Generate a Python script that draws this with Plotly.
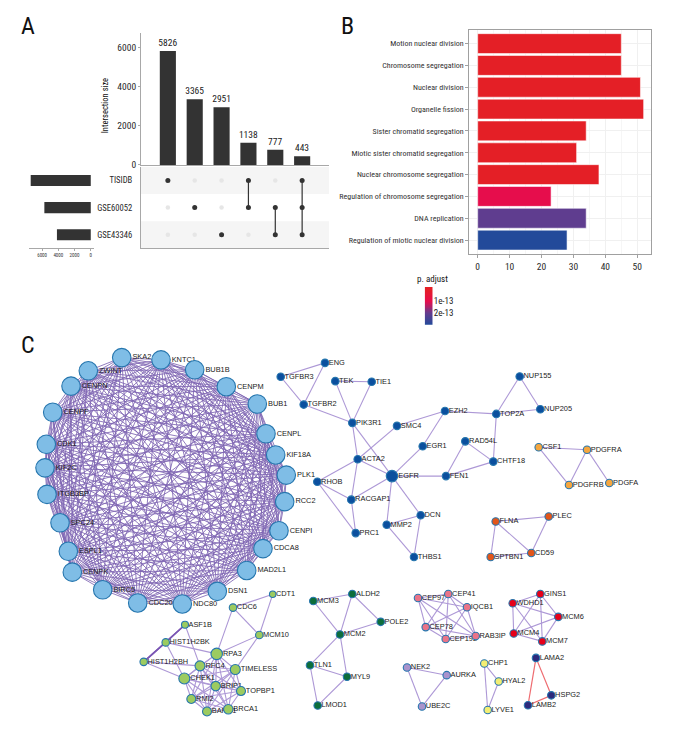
import itertools
import plotly.graph_objects as go

W, H = 680, 750
NARROW = "Roboto Condensed"
SANS = "Liberation Sans"

# ---- A: UpSet data
set_names = ["TISIDB", "GSE60052", "GSE43346"]
set_sizes = [7407, 5723, 4171]
inter_sizes = [5826, 3365, 2951, 1138, 777, 443]
inter_members = [[0], [1], [2], [0, 1], [1, 2], [0, 1, 2]]

# ---- B: enrichment data
terms = ["Motion nuclear division", "Chromosome segregation", "Nuclear division", "Organelle fission",
         "Sister chromatid segregation", "Miotic sister chromatid segregation",
         "Nuclear chromosome segregation", "Regulation of chromosome segregation",
         "DNA replication", "Regulation of miotic nuclear division"]
counts = [45, 45, 51, 52, 34, 31, 38, 23, 34, 28]
padj = [1e-16, 1e-16, 1e-16, 1e-16, 1e-16, 1e-16, 1e-16, 1.0e-13, 2.1e-13, 2.95e-13]
cb_levels = [(-0.17 + 3.17 * i / 40) * 1e-13 for i in range(41)]

# ---- C: network data (layout positions)
hub_nodes = {
    "SKA2": (121.7, 360), "KNTC1": (161, 362.3), "BUB1B": (194.7, 372.3), "CENPM": (226.3, 389.3),
    "BUB1": (257.3, 406.7), "CENPL": (266, 436.7), "KIF18A": (275.7, 458), "PLK1": (286.3, 478.3),
    "RCC2": (284.7, 505), "CENPI": (279, 534.3), "CDCA8": (263, 552.3), "MAD2L1": (246.7, 574.3),
    "DSN1": (217.3, 595.3), "NDC80": (182.3, 608), "CDC20": (137.7, 607), "BIRC5": (102.7, 593.7),
    "CENPK": (72.3, 576), "ESPL1": (68.3, 555), "SPC24": (60, 526.3), "ITGB3BP": (47, 497.7),
    "KIF2C": (45, 471), "CDK1": (46.3, 447.3), "CENPF": (52.7, 415), "CENPN": (71, 388.7),
    "ZWINT": (88.3, 373.3)}
blue_nodes = {
    "ENG": (325, 365.3), "TEK": (335.3, 383.7), "TIE1": (371.7, 384.3), "TGFBR2": (303.7, 407.3),
    "TGFBR3": (280.7, 379.3), "PIK3R1": (352.3, 425.7), "SMC4": (397, 428.7), "EZH2": (445, 413.7),
    "TOP2A": (496.3, 416.7), "NUP155": (519.7, 379), "NUP205": (540.3, 412), "EGR1": (422.7, 449.3),
    "RAD54L": (465.3, 444.3), "CHTF18": (493.3, 464.7), "ACTA2": (357.7, 462.3), "EGFR": (392, 479.3),
    "FEN1": (446, 479.3), "RHOB": (317.3, 485), "RACGAP1": (351.3, 503), "DCN": (420.7, 518.7),
    "MMP2": (386.7, 528.3), "PRC1": (355.7, 536.7), "THBS1": (414, 560.7)}
blue_edges = [("TGFBR3", "ENG"), ("TGFBR3", "TGFBR2"), ("ENG", "TGFBR2"), ("TGFBR2", "PIK3R1"), ("TEK", "TIE1"),
              ("TEK", "PIK3R1"), ("TIE1", "PIK3R1"), ("PIK3R1", "ACTA2"), ("PIK3R1", "EGFR"), ("SMC4", "ACTA2"),
              ("SMC4", "EZH2"), ("EZH2", "TOP2A"), ("EZH2", "EGR1"), ("EGR1", "EGFR"), ("TOP2A", "NUP155"),
              ("TOP2A", "NUP205"), ("NUP155", "NUP205"), ("TOP2A", "CHTF18"), ("RAD54L", "CHTF18"), ("RAD54L", "FEN1"),
              ("FEN1", "CHTF18"), ("FEN1", "EGFR"), ("ACTA2", "EGFR"), ("ACTA2", "RHOB"), ("ACTA2", "RACGAP1"),
              ("EGFR", "RACGAP1"), ("RHOB", "RACGAP1"), ("RHOB", "PRC1"), ("RACGAP1", "PRC1"), ("EGFR", "MMP2"),
              ("EGFR", "DCN"), ("MMP2", "DCN"), ("MMP2", "THBS1"), ("DCN", "THBS1")]
orange_nodes = {"CSF1": (538.7, 450.3), "PDGFRA": (587, 452.7), "PDGFRB": (569, 488.3), "PDGFA": (609.3, 486.3)}
orange_edges = [("CSF1", "PDGFRA"), ("CSF1", "PDGFRB"), ("PDGFRA", "PDGFRB"), ("PDGFRA", "PDGFA")]
rust_nodes = {"FLNA": (495.7, 525), "PLEC": (548.7, 520), "SPTBN1": (490.7, 560.7), "CD59": (531.3, 556.7)}
rust_edges = [("FLNA", "PLEC"), ("FLNA", "SPTBN1"), ("FLNA", "CD59"), ("PLEC", "CD59"), ("SPTBN1", "CD59")]
lime_nodes = {
    "CDT1": (272.7, 598.3), "CDC6": (233, 611.7), "ASF1B": (185, 629), "MCM10": (259.3, 639.3),
    "HIST1H2BK": (165.7, 646.7), "RPA3": (216.7, 658.3), "HIST1H2BH": (143.7, 666.3), "RFC4": (200, 670.3),
    "TIMELESS": (235.3, 674), "CHEK1": (184.3, 683), "BRIP1": (215.7, 690.7), "TOPBP1": (241, 695.7),
    "RMI2": (191.3, 703.7), "BARD1": (207, 716.3), "BRCA1": (228.3, 714)}
lime_clique = ["RPA3", "RFC4", "TIMELESS", "CHEK1", "BRIP1", "TOPBP1", "RMI2", "BARD1", "BRCA1"]
lime_edges = [("CDT1", "CDC6"), ("CDT1", "MCM10"), ("CDC6", "MCM10"), ("CDC6", "RPA3"), ("MCM10", "RPA3"),
              ("MCM10", "TIMELESS"), ("ASF1B", "RFC4"), ("HIST1H2BK", "CHEK1"),
              ("HIST1H2BH", "CHEK1"), ("HIST1H2BH", "RFC4"), ("HIST1H2BK", "RPA3")] + list(itertools.combinations(lime_clique, 2))
lime_thick_edges = [("ASF1B", "HIST1H2BK"), ("ASF1B", "HIST1H2BH"), ("HIST1H2BK", "HIST1H2BH")]
green_nodes = {"MCM3": (313.3, 605), "ALDH2": (352.3, 598), "POLE2": (380.7, 626), "MCM2": (340, 638.7),
               "TLN1": (310, 669.7), "MYL9": (347, 681.3), "LMOD1": (317.7, 710.3)}
green_edges = [("MCM3", "ALDH2"), ("MCM3", "MCM2"), ("ALDH2", "MCM2"), ("ALDH2", "POLE2"), ("MCM2", "POLE2"),
               ("MCM2", "TLN1"), ("MCM2", "MYL9"), ("TLN1", "MYL9"), ("TLN1", "LMOD1"), ("MYL9", "LMOD1")]
pink_nodes = {"CEP97": (418, 602), "CEP41": (448.3, 598), "IQCB1": (467, 611.3), "CEP78": (425.7, 631.3),
              "RAB3IP": (475.7, 640.3), "CEP192": (445.7, 643.3)}
red_nodes = {"GINS1": (540.3, 598), "WDHD1": (512.7, 607.3), "MCM6": (558.3, 621), "MCM4": (513.7, 637.7),
             "MCM7": (542.3, 645.7)}
lilac_nodes = {"NEK2": (407, 672), "AURKA": (446.7, 679.7), "UBE2C": (422, 711.3)}
yellow_nodes = {"CHP1": (484.3, 668), "HYAL2": (498.7, 686), "LYVE1": (487.7, 714.7)}
navy_nodes = {"LAMA2": (536, 662.3), "HSPG2": (551.3, 700), "LAMB2": (528, 710)}

node_groups = [
    (hub_nodes, "#7fbde6", 18.5, {}),
    (blue_nodes, "#0b4f9e", 7.5, {"EGFR": 11.5}),
    (orange_nodes, "#f5a63f", 7.5, {}),
    (rust_nodes, "#e2561a", 7.5, {}),
    (lime_nodes, "#9ccb60", 7.5, {"RPA3": 11.5, "RFC4": 10, "TIMELESS": 10, "CHEK1": 11, "BRIP1": 9.5,
                                  "TOPBP1": 9, "RMI2": 9, "BARD1": 9, "BRCA1": 9.5, "ASF1B": 7, "CDT1": 6.5}),
    (green_nodes, "#0d6e3b", 7.5, {}),
    (pink_nodes, "#ea7488", 7.5, {}),
    (red_nodes, "#e60019", 7.5, {}),
    (lilac_nodes, "#a993cc", 7.5, {}),
    (yellow_nodes, "#f3ee73", 7.5, {}),
    (navy_nodes, "#2d2a7c", 7.5, {}),
]
all_pos = {}
for g in node_groups:
    all_pos.update(g[0])


def dx(a, b):
    return (a / W, b / W)


def dy(top, bottom):
    return (1 - bottom / H, 1 - top / H)


fig = go.Figure()
GREY = "#a8a8a8"
DARK = "#333333"
font_n = dict(family=NARROW, size=9.5, color="#2a2a2a")

# ---- A top bars
fig.add_trace(go.Bar(x=list(range(len(inter_sizes))), y=inter_sizes, width=0.6, marker=dict(color=DARK, line_width=0),
                     text=inter_sizes, textposition="outside", cliponaxis=False, textangle=0, constraintext="none",
                     textfont=dict(family=NARROW, size=9.5, color="#222"), xaxis="x", yaxis="y", showlegend=False))
# ---- A matrix
for i, members in enumerate(inter_members):
    fig.add_trace(go.Scatter(x=[i] * 3, y=[0, 1, 2], mode="markers", marker=dict(size=4.5, color="#e6e6e6"),
                             xaxis="x2", yaxis="y2", showlegend=False))
for i, members in enumerate(inter_members):
    fig.add_trace(go.Scatter(x=[i] * len(members), y=members, mode="lines+markers",
                             marker=dict(size=5, color=DARK), line=dict(color=DARK, width=1.2),
                             xaxis="x2", yaxis="y2", showlegend=False))
# ---- A set bars
fig.add_trace(go.Bar(x=set_sizes, y=set_names, orientation="h", width=0.41, marker=dict(color=DARK, line_width=0),
                     xaxis="x3", yaxis="y3", showlegend=False))
# ---- B bars
fig.add_trace(go.Bar(x=counts, y=terms, orientation="h", width=0.91,
                     marker=dict(color=padj, coloraxis="coloraxis", line=dict(color="rgba(255,255,255,0.55)", width=1)),
                     xaxis="x4", yaxis="y4", showlegend=False))
# ---- B colour legend
fig.add_trace(go.Heatmap(z=[[v] for v in cb_levels], y=cb_levels, x=[0], coloraxis="coloraxis",
                         xaxis="x5", yaxis="y5", showlegend=False))


# ---- C edges
def edge_trace(edges, color, width, opacity=1.0):
    xs, ys = [], []
    for a, b in edges:
        xs += [all_pos[a][0], all_pos[b][0], None]
        ys += [all_pos[a][1], all_pos[b][1], None]
    return go.Scatter(x=xs, y=ys, mode="lines", line=dict(color=color, width=width), opacity=opacity,
                      xaxis="x6", yaxis="y6", showlegend=False, hoverinfo="skip")


LINE = "#ad98d6"
fig.add_trace(edge_trace(list(itertools.combinations(hub_nodes, 2)), "#6040a0", 0.85, 0.8))
for e in [blue_edges, orange_edges, rust_edges, lime_edges, green_edges,
          list(itertools.combinations(pink_nodes, 2)), list(itertools.combinations(red_nodes, 2)),
          list(itertools.combinations(lilac_nodes, 2)), list(itertools.combinations(yellow_nodes, 2))]:
    fig.add_trace(edge_trace(e, LINE, 1.1))
fig.add_trace(edge_trace(lime_thick_edges, "#7a56b4", 1.5))
fig.add_trace(edge_trace(list(itertools.combinations(navy_nodes, 2)), "#ee6b70", 1.2))

# ---- C labels, then nodes on top
for nodes, fill, size, special in node_groups:
    names = list(nodes)
    xs = [nodes[n][0] for n in names]
    ys = [nodes[n][1] for n in names]
    sizes = [max(special.get(n, size) - 3, 1) for n in names]
    fig.add_trace(go.Scatter(x=xs, y=ys, mode="markers+text", text=names, textposition="middle right",
                             textfont=dict(family=SANS, size=7.4, color="#1a1a1a"),
                             marker=dict(size=sizes, opacity=0), xaxis="x6", yaxis="y6", showlegend=False,
                             cliponaxis=False))
for nodes, fill, size, special in node_groups:
    names = list(nodes)
    fig.add_trace(go.Scatter(x=[nodes[n][0] for n in names], y=[nodes[n][1] for n in names], mode="markers",
                             marker=dict(size=[special.get(n, size) for n in names], color=fill, opacity=1,
                                         line=dict(color="#2676ae", width=1.1)),
                             xaxis="x6", yaxis="y6", showlegend=False, hovertext=names, cliponaxis=False))

off = dict(visible=False, fixedrange=True)
shapes = [dict(type="rect", xref="x2 domain", x0=0, x1=1, yref="y2", y0=r - 0.5, y1=r + 0.5, layer="below",
               fillcolor="#f5f5f5", line_width=0) for r in (0, 2)]

annotations = [
    dict(text=t, x=px / W, y=1 - py / H, xref="paper", yref="paper", xanchor=xa, yanchor="middle", showarrow=False,
         font=dict(family=NARROW, size=s, color="#111"), textangle=ang)
    for t, px, py, xa, s, ang in [
        ("A", 19, 26, "left", 24, 0), ("B", 339, 26, "left", 24, 0), ("C", 19, 347, "left", 24, 0),
        ("p. adjust", 415, 281, "left", 9, 0), ("Intersection size", 105, 107, "center", 8.5, -90)]
]

fig.update_layout(
    width=W, height=H, autosize=False, margin=dict(l=0, r=0, t=0, b=0), paper_bgcolor="white",
    plot_bgcolor="rgba(0,0,0,0)",
    showlegend=False, shapes=shapes, annotations=annotations, font=dict(family=NARROW),
    coloraxis=dict(cmin=-0.17e-13, cmax=3.0e-13, showscale=False,
                   colorscale=[[0, "#e41f26"], [0.08, "#e41f26"], [0.37, "#e60d4c"], [0.69, "#653c8e"], [1, "#1f4b9b"]]),
    xaxis=dict(domain=dx(141, 329), range=[-1, 6], showticklabels=False, ticks="", showline=True, linecolor=GREY,
               showgrid=False, zeroline=False, anchor="y"),
    yaxis=dict(domain=dy(33, 166), range=[0, 6763], tickvals=[0, 2000, 4000, 6000], tickfont=font_n, showline=True,
               linecolor=GREY, showgrid=False, zeroline=False, ticks="outside", ticklen=2, tickcolor=GREY, anchor="x"),
    xaxis2=dict(domain=dx(141, 329), range=[-1, 6], showticklabels=False, ticks="", showline=True, linecolor=GREY,
                showgrid=False, zeroline=False, anchor="y2"),
    yaxis2=dict(domain=dy(168, 250), range=[2.5, -0.5], tickvals=[0, 1, 2], ticktext=set_names,
                tickfont=dict(family=NARROW, size=8.6, color="#2a2a2a"),
                showline=True, linecolor=GREY, showgrid=False, zeroline=False, ticks="", ticklabelstandoff=6, anchor="x2"),
    xaxis3=dict(domain=dx(29, 94), range=[7617, -400], tickvals=[6000, 4000, 2000, 0], tickfont=dict(family=NARROW, size=5, color="#333"),
                showline=True, linecolor=GREY, showgrid=False, zeroline=False, ticks="outside", ticklen=2, tickcolor=GREY,
                anchor="y3"),
    yaxis3=dict(domain=dy(168, 250), categoryorder="array", categoryarray=set_names, range=[2.5, -0.5], showticklabels=False,
                ticks="", showline=False, showgrid=False, zeroline=False, anchor="x3"),
    xaxis4=dict(domain=dx(469.3, 651.3), range=[-2.63, 54.4], tickvals=[0, 10, 20, 30, 40, 50], tickfont=font_n,
                showline=True, mirror=True, linecolor="#a0a0a0", linewidth=1, gridcolor="#f0f0f0", zeroline=False,
                minor=dict(dtick=5, showgrid=True, gridcolor="#f6f6f6"), ticks="outside", ticklen=3, tickcolor="#a0a0a0",
                anchor="y4"),
    yaxis4=dict(domain=dy(30.7, 256), categoryorder="array", categoryarray=terms, range=[9.65, -0.6],
                tickfont=dict(family=NARROW, size=8, color="#333"), showline=True, mirror=True, linecolor="#a0a0a0",
                linewidth=1, gridcolor="#f0f0f0", ticks="outside", ticklen=3, tickcolor="#a0a0a0", zeroline=False, anchor="x4"),
    xaxis5=dict(domain=dx(424.7, 432.7), range=[-0.5, 0.5], visible=False, anchor="y5"),
    yaxis5=dict(domain=dy(289, 327), range=[3.0e-13, -0.17e-13], side="right", tickvals=[1e-13, 2e-13],
                ticktext=["1e-13", "2e-13"], tickfont=dict(family=NARROW, size=9, color="#222"), ticks="", showgrid=False,
                zeroline=False, showline=False, anchor="x5"),
    xaxis6=dict(domain=[0, 1], range=[0, W], anchor="y6", **off),
    yaxis6=dict(domain=[0, 1], range=[H, 0], anchor="x6", **off),
)
fig.write_html("out.html", config={"displayModeBar": False},
               post_script="document.body.style.margin='0';document.body.style.overflow='hidden';")
